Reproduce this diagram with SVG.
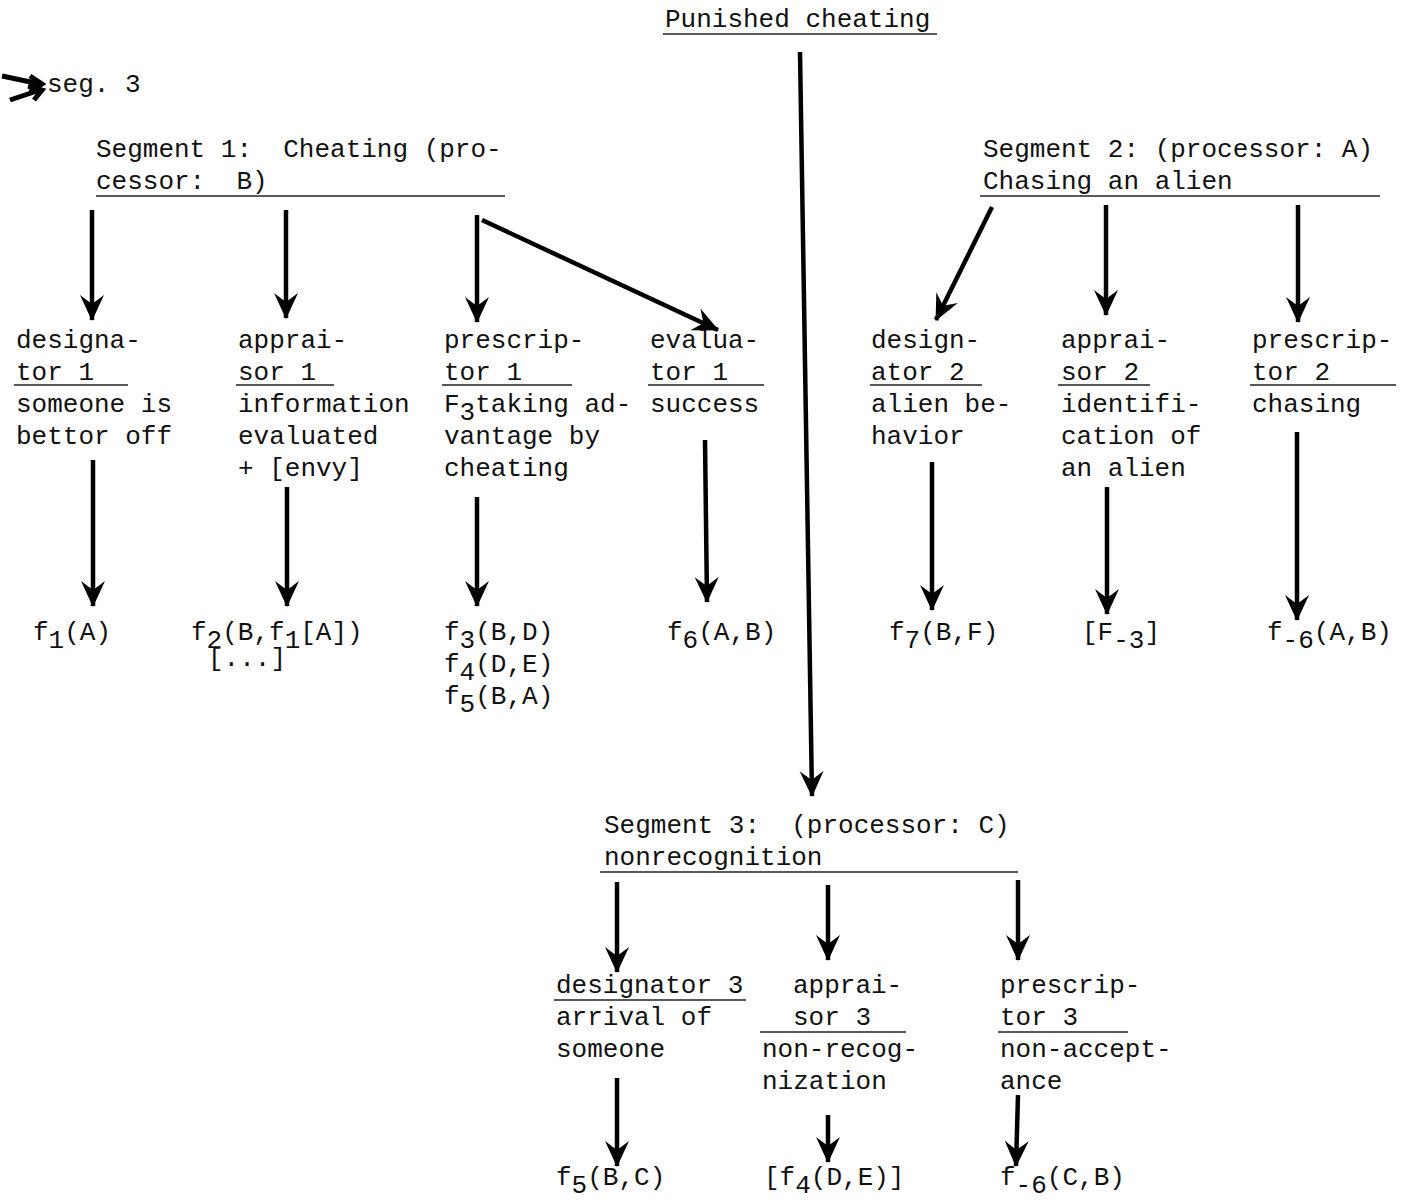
<svg xmlns="http://www.w3.org/2000/svg" width="1403" height="1204" viewBox="0 0 1403 1204">
<defs>
<style>
text{font-family:"Liberation Mono","DejaVu Sans Mono",monospace;font-size:26px;fill:#111;white-space:pre}
.u{stroke:#222;stroke-width:1.6;fill:none}
.a{stroke:#000;stroke-width:4.5;fill:none;marker-end:url(#ah)}
</style>
<marker id="ah" viewBox="0 0 26 26" refX="25" refY="13" markerWidth="26" markerHeight="26" markerUnits="userSpaceOnUse" orient="auto">
<path d="M0,1 L26,13 L0,25 L9,13 Z" fill="#000"/>
</marker>
</defs>
<rect width="1403" height="1204" fill="#fff"/>

<g id="title"><text x="665" y="27">Punished cheating</text><line class="u" x1="663" y1="34" x2="937" y2="34"/></g>
<g id="seg3ref"><text x="47" y="92">seg. 3</text>
<path d="M2,76 L40,84" stroke="#000" stroke-width="5" fill="none"/><path d="M30,76 L42,84 L30,92" stroke="#000" stroke-width="5" fill="none"/>
<path d="M10,100 L40,90" stroke="#000" stroke-width="5" fill="none"/><path d="M28,86 L42,90 L34,100" stroke="#000" stroke-width="5" fill="none"/></g>

<g id="segment1"><text x="96" y="157">Segment 1:  Cheating (pro-</text><text x="96" y="189">cessor:  B)</text><line class="u" x1="96" y1="196" x2="505" y2="196"/></g>
<g id="segment2"><text x="983" y="157">Segment 2: (processor: A)</text><text x="983" y="189">Chasing an alien</text><line class="u" x1="980" y1="196" x2="1380" y2="196"/></g>

<g id="designator1"><text x="16" y="348">designa-</text><text x="16" y="380">tor 1</text><line class="u" x1="14" y1="385" x2="128" y2="385"/><text x="16" y="412">someone is</text><text x="16" y="444">bettor off</text></g>
<g id="appraisor1"><text x="238" y="348">apprai-</text><text x="238" y="380">sor 1</text><line class="u" x1="236" y1="385" x2="334" y2="385"/><text x="238" y="412">information</text><text x="238" y="444">evaluated</text><text x="238" y="476">+ [envy]</text></g>
<g id="prescriptor1"><text x="444" y="348">prescrip-</text><text x="444" y="380">tor 1</text><line class="u" x1="442" y1="385" x2="572" y2="385"/><text x="444" y="412">F<tspan dy="8">3</tspan><tspan dy="-8">taking ad-</tspan></text><text x="444" y="444">vantage by</text><text x="444" y="476">cheating</text></g>
<g id="evaluator1"><text x="650" y="348">evalua-</text><text x="650" y="380">tor 1</text><line class="u" x1="648" y1="385" x2="764" y2="385"/><text x="650" y="412">success</text></g>
<g id="designator2"><text x="871" y="348">design-</text><text x="871" y="380">ator 2</text><line class="u" x1="870" y1="385" x2="982" y2="385"/><text x="871" y="412">alien be-</text><text x="871" y="444">havior</text></g>
<g id="appraisor2"><text x="1061" y="348">apprai-</text><text x="1061" y="380">sor 2</text><line class="u" x1="1058" y1="385" x2="1150" y2="385"/><text x="1061" y="412">identifi-</text><text x="1061" y="444">cation of</text><text x="1061" y="476">an alien</text></g>
<g id="prescriptor2"><text x="1252" y="348">prescrip-</text><text x="1252" y="380">tor 2</text><line class="u" x1="1250" y1="385" x2="1396" y2="385"/><text x="1252" y="412">chasing</text></g>

<g id="f1"><text x="33" y="640">f<tspan dy="8">1</tspan><tspan dy="-8">(A)</tspan></text></g>
<g id="f2"><text x="191" y="640">f<tspan dy="8">2</tspan><tspan dy="-8">(B,f</tspan><tspan dy="8">1</tspan><tspan dy="-8">[A])</tspan></text><text x="208" y="666">[...]</text></g>
<g id="f3"><text x="444" y="640">f<tspan dy="8">3</tspan><tspan dy="-8">(B,D)</tspan></text><text x="444" y="672">f<tspan dy="8">4</tspan><tspan dy="-8">(D,E)</tspan></text><text x="444" y="704">f<tspan dy="8">5</tspan><tspan dy="-8">(B,A)</tspan></text></g>
<g id="f6"><text x="667" y="640">f<tspan dy="8">6</tspan><tspan dy="-8">(A,B)</tspan></text></g>
<g id="f7"><text x="889" y="640">f<tspan dy="8">7</tspan><tspan dy="-8">(B,F)</tspan></text></g>
<g id="F3"><text x="1082" y="640">[F<tspan dy="8">-3</tspan><tspan dy="-8">]</tspan></text></g>
<g id="fm6a"><text x="1267" y="640">f<tspan dy="8">-6</tspan><tspan dy="-8">(A,B)</tspan></text></g>

<g id="segment3"><text x="604" y="833">Segment 3:  (processor: C)</text><text x="604" y="865">nonrecognition</text><line class="u" x1="600" y1="872" x2="1018" y2="872"/></g>
<g id="designator3"><text x="556" y="993">designator 3</text><line class="u" x1="554" y1="1000" x2="746" y2="1000"/><text x="556" y="1025">arrival of</text><text x="556" y="1057">someone</text></g>
<g id="appraisor3"><text x="793" y="993">apprai-</text><text x="793" y="1025">sor 3</text><line class="u" x1="760" y1="1032" x2="906" y2="1032"/><text x="762" y="1057">non-recog-</text><text x="762" y="1089">nization</text></g>
<g id="prescriptor3"><text x="1000" y="993">prescrip-</text><text x="1000" y="1025">tor 3</text><line class="u" x1="998" y1="1032" x2="1128" y2="1032"/><text x="1000" y="1057">non-accept-</text><text x="1000" y="1089">ance</text></g>
<g id="f5c"><text x="556" y="1185">f<tspan dy="8">5</tspan><tspan dy="-8">(B,C)</tspan></text></g>
<g id="f4d"><text x="764" y="1185">[f<tspan dy="8">4</tspan><tspan dy="-8">(D,E)]</tspan></text></g>
<g id="fm6c"><text x="1000" y="1185">f<tspan dy="8">-6</tspan><tspan dy="-8">(C,B)</tspan></text></g>

<g id="connectors">
<line class="a" x1="800" y1="52" x2="812" y2="796"/>
<line class="a" x1="92" y1="210" x2="92" y2="320"/>
<line class="a" x1="286" y1="210" x2="286" y2="318"/>
<line class="a" x1="477" y1="215" x2="477" y2="322"/>
<line class="a" x1="482" y1="220" x2="718" y2="330"/>
<line class="a" x1="992" y1="207" x2="936" y2="320"/>
<line class="a" x1="1106" y1="205" x2="1106" y2="315"/>
<line class="a" x1="1298" y1="205" x2="1298" y2="322"/>
<line class="a" x1="93" y1="460" x2="93" y2="606"/>
<line class="a" x1="287" y1="487" x2="287" y2="606"/>
<line class="a" x1="477" y1="497" x2="477" y2="606"/>
<line class="a" x1="705" y1="440" x2="707" y2="602"/>
<line class="a" x1="932" y1="462" x2="932" y2="610"/>
<line class="a" x1="1107" y1="487" x2="1107" y2="614"/>
<line class="a" x1="1297" y1="432" x2="1297" y2="620"/>
<line class="a" x1="617" y1="882" x2="617" y2="972"/>
<line class="a" x1="828" y1="885" x2="828" y2="960"/>
<line class="a" x1="1018" y1="880" x2="1018" y2="960"/>
<line class="a" x1="617" y1="1078" x2="617" y2="1166"/>
<line class="a" x1="828" y1="1115" x2="828" y2="1162"/>
<line class="a" x1="1018" y1="1095" x2="1016" y2="1166"/>
</g>
</svg>
